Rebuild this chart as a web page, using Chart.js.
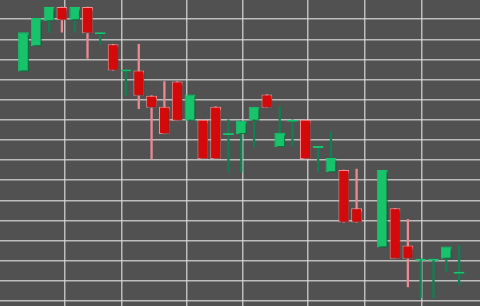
<!DOCTYPE html>
<html>
<head>
<meta charset="utf-8">
<script src="https://cdn.jsdelivr.net/npm/chart.js@4.4.1/dist/chart.umd.min.js"></script>
<style>
  html, body { margin: 0; padding: 0; background: #515151; }
  #wrap { width: 480px; height: 306px; }
</style>
</head>
<body>
<div id="wrap"><canvas id="chart"></canvas></div>
<script>
// one entry per time slot, null = no trading in that slot
const opens  = [22.8, 25.3, 27.8, 29.2, 27.9, 29.2, 26.5, 25.5, 22.8, 22.9, 20.4, 19.3, 21.8, 17.9, 18.0, 19.3, 16.5, 16.6, 17.9, 20.5, 15.3, 17.8, 18.0, 15.2, 12.8, 13.0, 9.2, null, 5.3, 9.2, 5.5, 4.0, 4.0, 4.2, 2.7];
const closes = [26.7, 28.1, 29.2, 27.9, 29.2, 26.6, 26.7, 22.9, 23.0, 20.4, 19.2, 16.6, 17.9, 20.5, 14.1, 14.1, 16.7, 17.9, 19.3, 19.2, 16.7, 18.0, 14.1, 15.4, 14.2, 7.8, 7.8, null, 13.0, 4.2, 4.2, 4.2, 4.2, 5.4, 2.9];
const highs  = [26.7, 28.1, 29.2, 29.2, 29.2, 29.2, 26.7, 25.5, 23.0, 25.5, 20.4, 21.8, 21.8, 20.5, 18.0, 19.3, 18.0, 17.9, 19.3, 20.5, 19.3, 18.0, 18.0, 15.4, 16.8, 13.0, 13.1, null, 13.0, 9.2, 8.1, 4.2, 4.2, 5.4, 5.5];
const lows   = [22.8, 25.3, 26.7, 26.7, 26.7, 24.1, 25.5, 22.9, 20.4, 19.1, 14.1, 16.6, 17.9, 17.9, 14.1, 14.1, 12.8, 12.8, 15.3, 19.2, 15.3, 15.4, 14.1, 12.8, 12.8, 7.8, 7.8, null, 5.3, 4.2, 1.4, 0.3, 0.3, 2.9, 1.6];

// where the vertical and horizontal grid lines sit (slot / price units)
const xGridAt = [3.25, 7.7, 12.75, 17.15, 22.2, 26.65, 31.1];
const yGridAt = [0, 2, 4, 6, 8, 10, 12, 14, 16, 18, 20, 22, 24, 26, 28];

const upFill = '#17c46c';
const upWick = '#0f8052';
const downFill = '#d40a0a';
const downEdge = '#ff8c8c';
const downWick = '#ec8a92';

const bodies = [];
const wicks = [];
const bodyFill = [], bodyEdge = [], wickColor = [];

opens.forEach((o, i) => {
  if (o === null) return;
  const c = closes[i];
  const up = c >= o;
  bodies.push({ x: i, y: [Math.min(o, c), Math.max(o, c)] });
  wicks.push({ x: i, y: [lows[i], highs[i]] });
  bodyFill.push(up ? upFill : downFill);
  bodyEdge.push(up ? upFill : downEdge);
  wickColor.push(up ? upWick : downWick);
});

const candleShadow = {
  id: 'candleShadow',
  beforeDatasetDraw(chart, args) {
    if (args.index !== 0) return;
    const ctx = chart.ctx;
    ctx.save();
    ctx.shadowColor = 'rgba(0,0,0,0.45)';
    ctx.shadowOffsetX = 2;
    ctx.shadowOffsetY = 2;
    ctx.shadowBlur = 2;
  },
  afterDatasetDraw(chart, args) {
    if (args.index !== 0) return;
    chart.ctx.restore();
  }
};

new Chart(document.getElementById('chart'), {
  type: 'bar',
  data: {
    datasets: [{
      data: bodies,
      backgroundColor: bodyFill,
      borderColor: bodyEdge,
      borderWidth: 1,
      borderSkipped: false,
      grouped: false,
      barPercentage: 0.84,
      categoryPercentage: 1,
      order: 0
    }, {
      data: wicks,
      backgroundColor: wickColor,
      borderWidth: 0,
      grouped: false,
      barThickness: 1.6,
      order: 1
    }]
  },
  options: {
    responsive: true,
    maintainAspectRatio: false,
    animation: false,
    layout: { padding: 0 },
    plugins: { legend: { display: false }, tooltip: { enabled: false } },
    scales: {
      x: {
        type: 'linear',
        min: -1.83,
        max: 35.63,
        offset: false,
        afterBuildTicks: s => { s.ticks = xGridAt.map(v => ({ value: v })); },
        ticks: { display: false },
        border: { display: false },
        grid: { offset: false, color: 'rgba(215,215,215,0.8)', lineWidth: 1.5, drawTicks: false }
      },
      y: {
        min: -0.5,
        max: 29.9,
        afterBuildTicks: s => { s.ticks = yGridAt.map(v => ({ value: v })); },
        ticks: { display: false },
        border: { display: false },
        grid: { color: 'rgba(215,215,215,0.8)', lineWidth: 1.5, drawTicks: false }
      }
    }
  },
  plugins: [candleShadow]
});
</script>
</body>
</html>
